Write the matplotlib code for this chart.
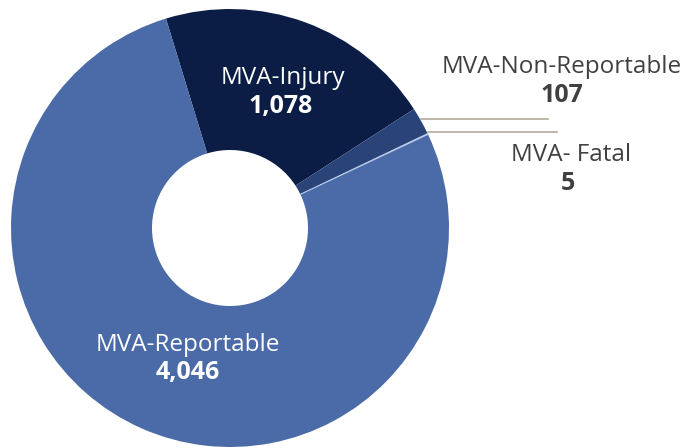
import numpy as np
import matplotlib
matplotlib.use("Agg")
import matplotlib.pyplot as plt

plt.rcParams['font.family'] = ['Open Sans', 'DejaVu Sans']

labels = ["MVA-Injury", "MVA-Non-Reportable", "MVA- Fatal", "MVA-Reportable"]
values = [1078, 107, 5, 4046]
colors = ["#0b1d45", "#2a4479", "#b9cbe8", "#4a6aa8"]

W, H = 685, 448
fig = plt.figure(figsize=(W / 100, H / 100), dpi=100)
ax = fig.add_axes([0, 0, 1, 1])

cx, cy = 230, H - 228
r_out, r_in = 219, 78
start = 107

wedges, _ = ax.pie(values, colors=colors, startangle=start, counterclock=False,
                   center=(cx, cy), radius=r_out, frame=True,
                   wedgeprops=dict(width=r_out - r_in, linewidth=0))
# the tiny fatal slice is drawn a bit wider so it shows
wedges[2].set_edgecolor(colors[2])
wedges[2].set_linewidth(0.8)

ax.set_xlim(0, W)
ax.set_ylim(0, H)
ax.set_aspect('equal')
ax.axis('off')

fs, fsb = 17.5, 18

# labels inside the slices
ax.text(283, H - 78, labels[0], color='white', fontsize=fs, ha='center', va='center')
ax.text(281, H - 106, f"{values[0]:,}", color='white', fontsize=fsb, fontweight='bold',
        ha='center', va='center')
ax.text(188, H - 345, labels[3], color='white', fontsize=fs, ha='center', va='center')
ax.text(188, H - 373, f"{values[3]:,}", color='white', fontsize=fsb, fontweight='bold',
        ha='center', va='center')

# outside labels with leader lines
total = sum(values)
cum = np.cumsum([0] + values)
grey = '#404040'
for i, (lx, ly, lend) in zip([1, 2], [(562, 67, 548), (571, 155, 557)]):
    mid = start - 360 * (cum[i] + values[i] / 2) / total
    x0 = cx + r_out * np.cos(np.radians(mid))
    y0 = cy + r_out * np.sin(np.radians(mid)) + 2
    ax.plot([x0, lend], [y0, y0], color='#b5aa9c', lw=1.2)
    ax.text(lx, H - ly, labels[i], color=grey, fontsize=fs, ha='center', va='center')
    ax.text(lx - 3 * (i == 2), H - ly - 28, f"{values[i]:,}", color=grey, fontsize=fsb,
            fontweight='bold', ha='center', va='center')

fig.savefig("out.png", dpi=100)
